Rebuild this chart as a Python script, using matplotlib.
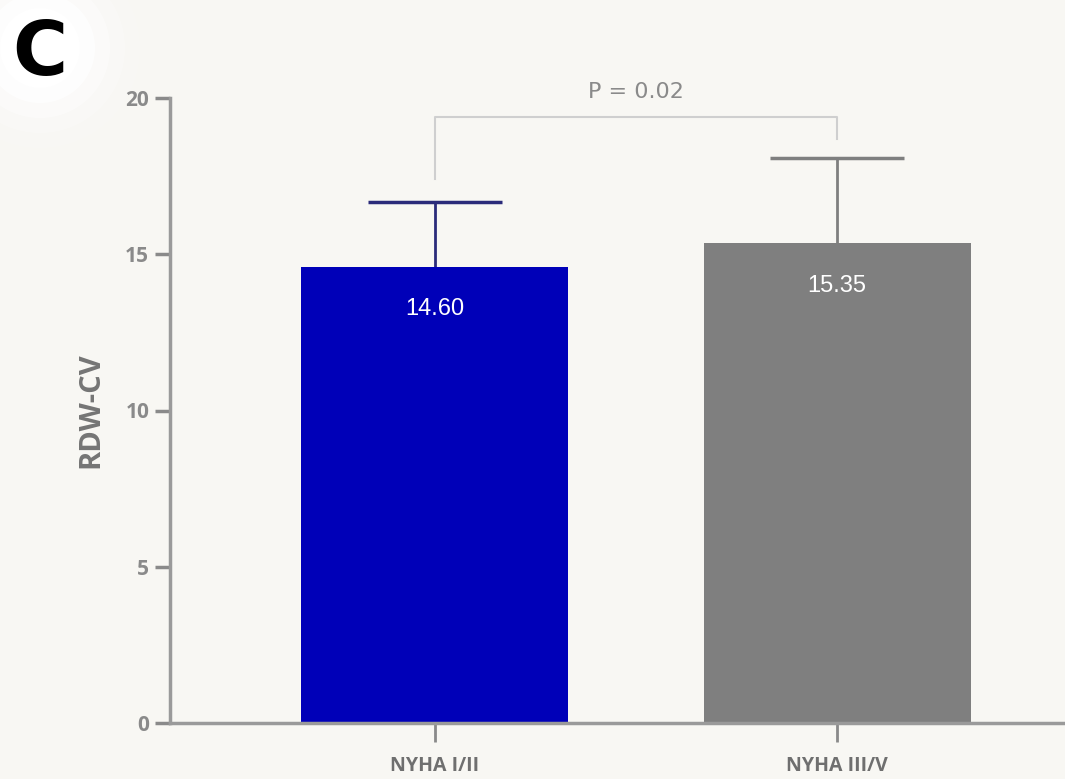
import numpy as np
import matplotlib.pyplot as plt
from matplotlib.patches import Ellipse

groups = ["NYHA I/II", "NYHA III/V"]
means = [14.60, 15.35]
sds = [2.07, 2.72]
bar_colors = ["#0000b8", "#7f7f7f"]
err_colors = ["#2b2b7a", "#7f7f7f"]
p_text = "P = 0.02"
bracket_y = 19.4
bracket_legs = [17.4, 18.7]

bg = "#f8f7f3"
fig = plt.figure(figsize=(10.65, 7.79), dpi=100, facecolor=bg)
ax = fig.add_axes([170/1065, 56/779, 895/1065, 625/779], facecolor=bg)

x = np.arange(len(groups))
cap = 0.166
for i in range(len(groups)):
    ax.bar(x[i], means[i], width=0.664, color=bar_colors[i], zorder=2)
    # upper-only error bar
    ax.vlines(x[i], means[i], means[i] + sds[i], color=err_colors[i], lw=2, zorder=1)
    ax.hlines(means[i] + sds[i], x[i] - cap, x[i] + cap, color=err_colors[i],
              lw=2.5, zorder=1)
    ax.text(x[i], means[i] - 1.35, "%.2f" % means[i], color="white",
            ha="center", va="center", fontsize=17, family="Liberation Sans",
            zorder=3)

# significance bracket
ax.plot([x[0], x[0], x[1], x[1]],
        [bracket_legs[0], bracket_y, bracket_y, bracket_legs[1]],
        color="#cfcfcf", lw=1.5, clip_on=False, zorder=0)
ax.text((x[0] + x[1]) / 2, 20.2, p_text, ha="center", va="center",
        fontsize=16, color="#8a8a8a", clip_on=False)

ax.set_xlim(-0.659, 1.567)
ax.set_ylim(0, 20)
ax.set_yticks([0, 5, 10, 15, 20])
ax.set_xticks(x)
ax.set_xticklabels(groups, fontsize=14, fontweight="bold", color="#6f6f6f",
                   family="Open Sans")
for lab in ax.get_yticklabels():
    lab.set_fontweight("bold")
    lab.set_family("Open Sans")
ax.tick_params(axis="y", colors="#8a8a8a", labelsize=15, width=2.5, length=11,
               pad=4, labelcolor="#8a8a8a")
ax.tick_params(axis="x", colors="#8a8a8a", width=2, length=14, pad=10,
               labelcolor="#6f6f6f")
for s in ["top", "right"]:
    ax.spines[s].set_visible(False)
for s in ["left", "bottom"]:
    ax.spines[s].set_color("#9a9a9a")
    ax.spines[s].set_linewidth(2.5)

ax.set_ylabel("RDW-CV", fontsize=21, fontweight="bold", color="#757575",
              labelpad=14, family="Open Sans")

# panel letter with soft white halo
cx, cy = 40/1065, 1 - 48/779
for r, a in [(100, 0.12), (85, 0.22), (70, 0.4), (55, 0.7), (40, 1.0)]:
    fig.patches.append(Ellipse((cx, cy), 2*r/1065, 2*r/779,
                               transform=fig.transFigure, color="white",
                               alpha=a, lw=0, zorder=-1))
fig.text(cx, cy - 6/779, "C", fontsize=54, fontweight="bold",
         color="black", ha="center", va="center")

plt.savefig("out.png", dpi=100, facecolor=bg)
plt.close()
